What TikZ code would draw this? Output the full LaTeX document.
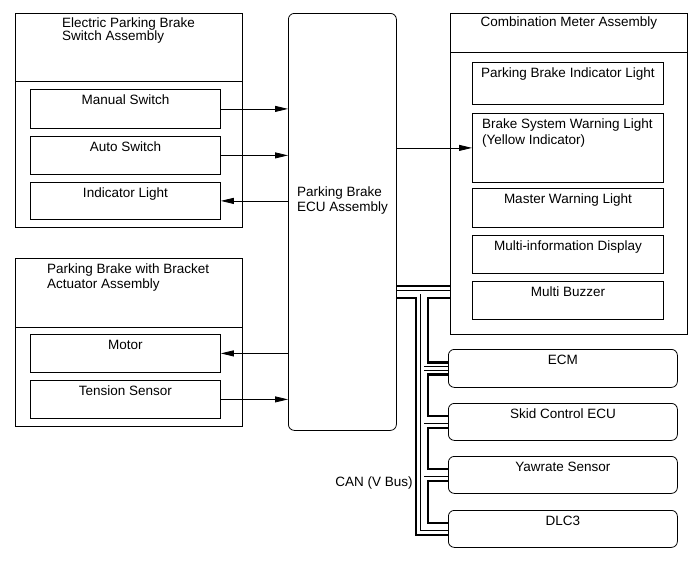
\documentclass[tikz,border=0pt]{standalone}
\usepackage{fontspec}
\setmainfont{Liberation Sans}
\usetikzlibrary{arrows.meta,backgrounds,calc}
\begin{document}
\begin{tikzpicture}[x=1pt,y=-1pt,
  font=\fontsize{13.5}{15.5}\selectfont,
  box/.style={draw, line width=0.8pt, inner sep=0pt, anchor=north west},
  rbox/.style={box, rounded corners=6pt},
  lbl/.style={anchor=base, inner sep=0pt},
  lblw/.style={anchor=base west, inner sep=0pt},
  arr/.style={line width=0.8pt, -{Triangle[length=13pt,width=6pt]}},
  bus/.style={line width=2.4pt},
  dbl/.style={line width=4.8pt, black},
  dblin/.style={line width=3pt, white},
]
\useasboundingbox (0,0) rectangle (689,562);

% Electric Parking Brake Switch Assembly
\node[box, minimum width=227pt, minimum height=214pt] (epb) at (15,13) {};
\draw[line width=0.8pt] (epb.west|-0,81) -- (epb.east|-0,81);
\node[lblw] (t1) at (62,27.5) {Electric Parking Brake};
\node[lblw] (t2) at (62,41) {Switch Assembly};
\node[box, minimum width=190pt, minimum height=39pt] (ms) at (30,89) {};
\node[box, minimum width=190pt, minimum height=38pt] (as) at (30,136) {};
\node[box, minimum width=190pt, minimum height=37pt] (il) at (30,182) {};
\node[lbl] (t3) at ([yshift=-15pt]ms.north) {Manual Switch};
\node[lbl] (t4) at ([yshift=-15pt]as.north) {Auto Switch};
\node[lbl] (t5) at ([yshift=-15pt]il.north) {Indicator Light};

% Parking Brake with Bracket Actuator Assembly
\node[box, minimum width=227pt, minimum height=168pt] (act) at (15,258) {};
\draw[line width=0.8pt] (act.west|-0,327) -- (act.east|-0,327);
\node[lblw] (t6) at (47,273) {Parking Brake with Bracket};
\node[lblw] (t7) at (47,288) {Actuator Assembly};
\node[box, minimum width=190pt, minimum height=38pt] (motor) at (30,334) {};
\node[box, minimum width=190pt, minimum height=38pt] (ts) at (30,380) {};
\node[lbl] (t8) at ([yshift=-15pt]motor.north) {Motor};
\node[lbl] (t9) at ([yshift=-15pt]ts.north) {Tension Sensor};

% ECU
\node[rbox, minimum width=108pt, minimum height=417pt] (ecu) at (288,13) {};
\node[lblw] (t10) at (297,196.5) {Parking Brake};
\node[lblw] (t11) at (297,211) {ECU Assembly};

% Combination Meter Assembly
\node[box, minimum width=237pt, minimum height=321pt] (meter) at (450,13) {};
\draw[line width=0.8pt] (meter.west|-0,52) -- (meter.east|-0,52);
\node[lbl] (t12) at ([yshift=-13.5pt]meter.north) {Combination Meter Assembly};
\node[box, minimum width=191pt, minimum height=42pt] (pbil) at (472,62) {};
\node[box, minimum width=191pt, minimum height=69pt] (bswl) at (472,113) {};
\node[box, minimum width=191pt, minimum height=39pt] (mwl) at (472,188) {};
\node[box, minimum width=191pt, minimum height=38pt] (mid) at (472,235) {};
\node[box, minimum width=191pt, minimum height=38pt] (mb) at (472,281) {};
\node[lbl] (t13) at ([yshift=-15pt]pbil.north) {Parking Brake Indicator Light};
\node[lblw] (t14) at (482,128) {Brake System Warning Light};
\node[lblw] (t15) at (482,144) {(Yellow Indicator)};
\node[lbl] (t16) at ([yshift=-15pt]mwl.north) {Master Warning Light};
\node[lbl] (t17) at ([yshift=-15pt]mid.north) {Multi-information Display};
\node[lbl] (t18) at ([yshift=-15pt]mb.north) {Multi Buzzer};

% CAN nodes
\node[rbox, minimum width=229pt, minimum height=38pt] (ecm) at (448,349) {};
\node[rbox, minimum width=229pt, minimum height=37pt] (skid) at (448,403) {};
\node[rbox, minimum width=229pt, minimum height=37pt] (yaw) at (448,456) {};
\node[rbox, minimum width=229pt, minimum height=37pt] (dlc) at (448,510) {};
\node[lbl] (t19) at ([yshift=-15pt]ecm.north) {ECM};
\node[lbl] (t20) at ([yshift=-15pt]skid.north) {Skid Control ECU};
\node[lbl] (t21) at ([yshift=-15pt]yaw.north) {Yawrate Sensor};
\node[lbl] (t22) at ([yshift=-15pt]dlc.north) {DLC3};

\node (can) at (374,483) {CAN (V Bus)};

% signal arrows
\draw[arr] (ms.east) -- (ms.east -| ecu.west);
\draw[arr] (as.east) -- (as.east -| ecu.west);
\draw[arr] (il.east -| ecu.west) -- (il.east);
\draw[arr] (motor.east -| ecu.west) -- (motor.east);
\draw[arr] (ts.east) -- (ts.east -| ecu.west);
\draw[arr] (bswl.west -| ecu.east) -- (bswl.west);

% CAN bus
\coordinate (yA) at (0,286);
\coordinate (yB) at (0,292);
\coordinate (yC) at (0,298);
\coordinate (xO) at (416,0);
\coordinate (xD) at (422,0);
\coordinate (xI) at (428,0);
\coordinate (ecmI) at ([yshift=6pt]ecm.west);
\coordinate (ecmO) at ([yshift=-6pt]ecm.west);
\coordinate (skidI) at ([yshift=6pt]skid.west);
\coordinate (skidO) at ([yshift=-6pt]skid.west);
\coordinate (yawI) at ([yshift=6pt]yaw.west);
\coordinate (yawO) at ([yshift=-6pt]yaw.west);
\coordinate (dlcI) at ([yshift=6pt]dlc.west);
\coordinate (dlcO) at ([yshift=-6pt]dlc.west);

\begin{scope}[on background layer]
\draw[bus] (ecu.east|-yA) -- (meter.west|-yA);
\draw[bus] (ecu.east|-yC) -- (xO|-yC) |- (dlcO);
\draw[bus] (meter.west|-yC) -- (xI|-yC) |- (ecmI);
\draw[bus] (ecmO) -- (ecmO -| xI) |- (skidI);
\draw[bus] (skidO) -- (skidO -| xI) |- (yawI);
\draw[bus] (yawO) -- (yawO -| xI) |- (dlcI);
\draw[dbl] (ecu.east|-yB) -- (meter.west|-yB)
  (xD|-yB) |- (dlc.west)
  (xD|-ecm.west) -- (ecm.west)
  (xD|-skid.west) -- (skid.west)
  (xD|-yaw.west) -- (yaw.west);
\draw[dblin] (ecu.east|-yB) -- (meter.west|-yB)
  (xD|-yB) |- (dlc.west)
  (xD|-ecm.west) -- (ecm.west)
  (xD|-skid.west) -- (skid.west)
  (xD|-yaw.west) -- (yaw.west);
\end{scope}
\end{tikzpicture}
\end{document}
